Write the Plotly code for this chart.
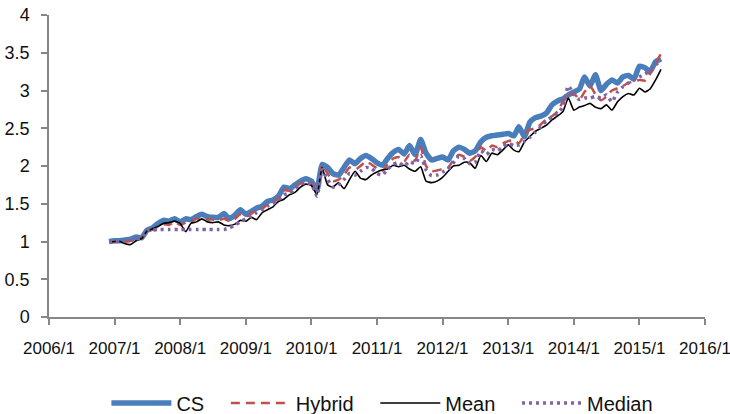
import plotly.graph_objects as go
import pandas as pd

# Monthly observations, 2006/12 .. 2015/5
months = pd.date_range("2006-12-01", periods=102, freq="MS")

cs = [1.00, 1.01, 1.01, 1.02, 1.03, 1.06, 1.05, 1.15, 1.18, 1.24, 1.28, 1.27,
      1.30, 1.26, 1.30, 1.29, 1.33, 1.36, 1.33, 1.32, 1.32, 1.37, 1.30, 1.35,
      1.42, 1.36, 1.40, 1.44, 1.47, 1.53, 1.55, 1.60, 1.72, 1.70, 1.75, 1.80,
      1.83, 1.80, 1.68, 2.02, 1.98, 1.90, 1.88, 1.98, 2.08, 2.03, 2.10, 2.14,
      2.10, 2.04, 2.01, 2.10, 2.18, 2.22, 2.16, 2.27, 2.15, 2.35, 2.17, 2.08,
      2.10, 2.12, 2.08, 2.20, 2.25, 2.22, 2.17, 2.20, 2.32, 2.38, 2.40, 2.41,
      2.42, 2.43, 2.40, 2.52, 2.39, 2.58, 2.64, 2.66, 2.70, 2.81, 2.86, 2.89,
      2.94, 2.98, 3.02, 3.18, 3.06, 3.21, 3.00, 3.08, 3.14, 3.10, 3.18, 3.20,
      3.15, 3.32, 3.30, 3.25, 3.38, 3.42]

hybrid = [1.00, 1.00, 1.01, 1.00, 1.01, 1.04, 1.04, 1.13, 1.16, 1.20, 1.23, 1.22,
          1.26, 1.22, 1.25, 1.27, 1.30, 1.31, 1.29, 1.29, 1.28, 1.30, 1.27, 1.30,
          1.36, 1.33, 1.37, 1.41, 1.43, 1.49, 1.52, 1.57, 1.68, 1.67, 1.72, 1.77,
          1.80, 1.77, 1.65, 2.01, 1.90, 1.80, 1.82, 1.88, 1.98, 1.95, 2.00, 2.06,
          2.02, 1.97, 1.94, 2.02, 2.10, 2.12, 2.06, 2.15, 2.07, 2.25, 2.00, 1.93,
          1.94, 1.96, 1.98, 2.08, 2.15, 2.12, 2.07, 2.12, 2.25, 2.20, 2.27, 2.25,
          2.30, 2.33, 2.34, 2.30, 2.42, 2.48, 2.50, 2.55, 2.62, 2.66, 2.72, 2.85,
          2.93, 2.96, 2.88, 2.98, 3.06, 2.95, 2.87, 2.92, 3.00, 3.03, 3.06, 3.10,
          3.12, 3.14, 3.13, 3.22, 3.36, 3.49]

mean = [0.99, 1.00, 1.00, 0.97, 0.96, 1.01, 1.04, 1.14, 1.17, 1.20, 1.24, 1.25,
        1.27, 1.24, 1.13, 1.24, 1.26, 1.30, 1.26, 1.25, 1.26, 1.22, 1.21, 1.23,
        1.28, 1.27, 1.32, 1.29, 1.38, 1.42, 1.46, 1.53, 1.56, 1.62, 1.65, 1.72,
        1.76, 1.74, 1.62, 1.98, 1.75, 1.72, 1.78, 1.70, 1.82, 1.93, 1.84, 1.82,
        1.88, 1.92, 1.95, 1.96, 2.01, 1.99, 2.01, 1.96, 1.93, 1.99, 1.80, 1.78,
        1.80, 1.85, 1.93, 2.00, 2.01, 2.05, 2.04, 1.97, 2.14, 2.06, 2.17, 2.15,
        2.21, 2.28, 2.21, 2.19, 2.32, 2.39, 2.46, 2.50, 2.54, 2.61, 2.66, 2.72,
        2.90, 2.74, 2.78, 2.80, 2.83, 2.78, 2.76, 2.81, 2.74, 2.85, 2.92, 2.96,
        2.94, 3.03, 2.98, 3.02, 3.14, 3.28]

median = [1.00, 1.00, 1.00, 1.01, 1.02, 1.03, 1.05, 1.15, 1.15, 1.16, 1.16, 1.16,
          1.16, 1.16, 1.16, 1.16, 1.16, 1.16, 1.16, 1.16, 1.16, 1.16, 1.18, 1.22,
          1.26, 1.30, 1.34, 1.38, 1.42, 1.47, 1.50, 1.55, 1.62, 1.64, 1.70, 1.76,
          1.78, 1.76, 1.60, 1.95, 1.82, 1.72, 1.75, 1.82, 1.90, 1.88, 1.93, 1.98,
          1.97, 1.90, 1.88, 1.96, 2.02, 2.05, 2.00, 2.06, 2.03, 2.14, 1.95, 1.87,
          1.88, 1.92, 1.96, 2.04, 2.13, 2.10, 2.03, 2.05, 2.20, 2.15, 2.22, 2.20,
          2.25, 2.30, 2.27, 2.28, 2.33, 2.38, 2.45, 2.52, 2.60, 2.65, 2.70, 2.78,
          3.06, 2.95, 2.88, 2.90, 2.90, 2.92, 2.90, 2.94, 2.85, 2.98, 3.05, 3.10,
          3.14, 3.18, 3.22, 3.26, 3.34, 3.40]

series_names = ["CS", "Hybrid", "Mean", "Median"]
year_ticks = [f"{y}-01-01" for y in range(2006, 2017)]
year_labels = [f"{y}/1" for y in range(2006, 2017)]
y_ticks = [0, 0.5, 1, 1.5, 2, 2.5, 3, 3.5, 4]
y_labels = ["0", "0.5", "1", "1.5", "2", "2.5", "3", "3.5", "4"]

FONT = "Liberation Sans, Arial, Helvetica, sans-serif"
AXIS_COLOR = "#868686"
TXT = "#111111"
PAD = "\u00a0\u00a0\u00a0"  # extra spacing between legend entries

styles = [
    dict(color="#4A7EBB", width=5.5),
    dict(color="#C0504D", width=2.5, dash="9px,6px"),
    dict(color="#000000", width=1.6),
    dict(color="#8064A2", width=3.5, dash="3px,4px"),
]

fig = go.Figure()
for i, (name, vals) in enumerate(zip(series_names, [cs, hybrid, mean, median])):
    label = name + (PAD if i < 3 else "")
    fig.add_trace(go.Scatter(x=months, y=vals, name=label, mode="lines",
                             line=dict(shape="spline", smoothing=0.5, **styles[i])))

fig.update_layout(
    width=730, height=414,
    margin=dict(l=49, r=25, t=15, b=97, autoexpand=False),
    plot_bgcolor="white", paper_bgcolor="white",
    font=dict(family=FONT, size=17, color=TXT),
    showlegend=True,
    legend=dict(orientation="h", x=0.0875, xanchor="left", y=-0.285, yanchor="middle",
                font=dict(family=FONT, size=20, color=TXT),
                itemwidth=60, traceorder="normal", bgcolor="rgba(0,0,0,0)"),
    xaxis=dict(type="date", range=["2006-01-01", "2016-01-01"],
               tickmode="array", tickvals=year_ticks, ticktext=year_labels,
               showgrid=False, zeroline=False,
               showline=True, linecolor=AXIS_COLOR, linewidth=1.5,
               ticks="outside", ticklen=6, tickwidth=1.5, tickcolor=AXIS_COLOR,
               ticklabelstandoff=9, ticklabeloverflow="allow",
               tickfont=dict(family=FONT, size=17, color=TXT)),
    yaxis=dict(range=[0, 4], tickmode="array", tickvals=y_ticks, ticktext=y_labels,
               showgrid=False, zeroline=False,
               showline=True, linecolor=AXIS_COLOR, linewidth=1.5,
               ticks="outside", ticklen=6, tickwidth=1.5, tickcolor=AXIS_COLOR,
               ticklabelstandoff=8,
               tickfont=dict(family=FONT, size=18, color=TXT)),
)

fig.write_html("out.html", config={"displayModeBar": False},
               post_script="document.body.style.margin='0';")
